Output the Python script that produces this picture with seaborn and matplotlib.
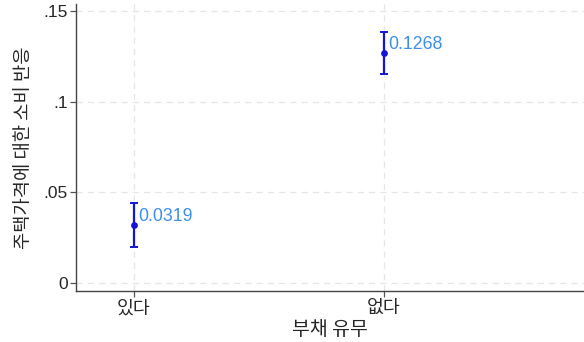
import matplotlib
matplotlib.use("Agg")
import matplotlib.pyplot as plt
import seaborn as sns
import numpy as np
import pandas as pd

# Estimated consumption response by debt status, with 95% CI
categories = ["있다", "없다"]
estimates = [0.0319, 0.1268]
ci_low = [0.0197, 0.1151]
ci_high = [0.0440, 0.1383]
y_ticks = [0, 0.05, 0.10, 0.15]
y_tick_labels = ["0", ".05", ".1", ".15"]

sns.set_theme(style="white")
plt.rcParams["font.family"] = ["Noto Sans CJK KR", "DejaVu Sans"]

df = pd.DataFrame({"pos": np.arange(1, len(categories) + 1),
                   "est": estimates, "lo": ci_low, "hi": ci_high})

fig = plt.figure(figsize=(5.84, 3.42), dpi=100)
ax = fig.add_axes([76 / 584, 51 / 342, 1 - 76 / 584, (338 - 51) / 342])

bar_color = "#1414d8"
label_color = "#3d8fea"

ax.errorbar(df["pos"], df["est"],
            yerr=[df["est"] - df["lo"], df["hi"] - df["est"]],
            fmt="none", ecolor=bar_color, elinewidth=1.6, capsize=3, capthick=1.4, zorder=3)
sns.scatterplot(data=df, x="pos", y="est", ax=ax, color=bar_color, s=24,
                edgecolor=bar_color, linewidth=0, zorder=4)

# value labels sit to the upper right of each point
for p, e in zip(df["pos"], df["est"]):
    ax.annotate(f"{e:.4f}", (p, e), xytext=(3, 6), textcoords="offset points",
                ha="left", va="center", fontsize=12.8, color=label_color,
                family=["Liberation Sans", "DejaVu Sans"])

ax.set_xlim(0.768, 2.8)
ax.set_ylim(-0.0044, 0.1539)
ax.set_xticks(df["pos"])
ax.set_xticklabels(categories, fontsize=13.2)
ax.set_yticks(y_ticks)
ax.set_yticklabels(y_tick_labels, fontsize=12.5, family=["Liberation Sans", "DejaVu Sans"])

ax.grid(True, color="#e6e6e6", linestyle=(0, (5, 4)), linewidth=0.9)
ax.tick_params(axis="both", which="major", direction="out", length=4, width=0.9,
               color="#555555", pad=2, bottom=True, left=True)
for side in ["top", "right"]:
    ax.spines[side].set_visible(False)
for side in ["left", "bottom"]:
    ax.spines[side].set_color("#444444")
    ax.spines[side].set_linewidth(1.0)

ax.set_xlabel("부채 유무", fontsize=14, labelpad=1)
ax.set_ylabel("주택가격에 대한 소비 반응", fontsize=13.5, labelpad=7)

fig.savefig("out.png", dpi=100)
